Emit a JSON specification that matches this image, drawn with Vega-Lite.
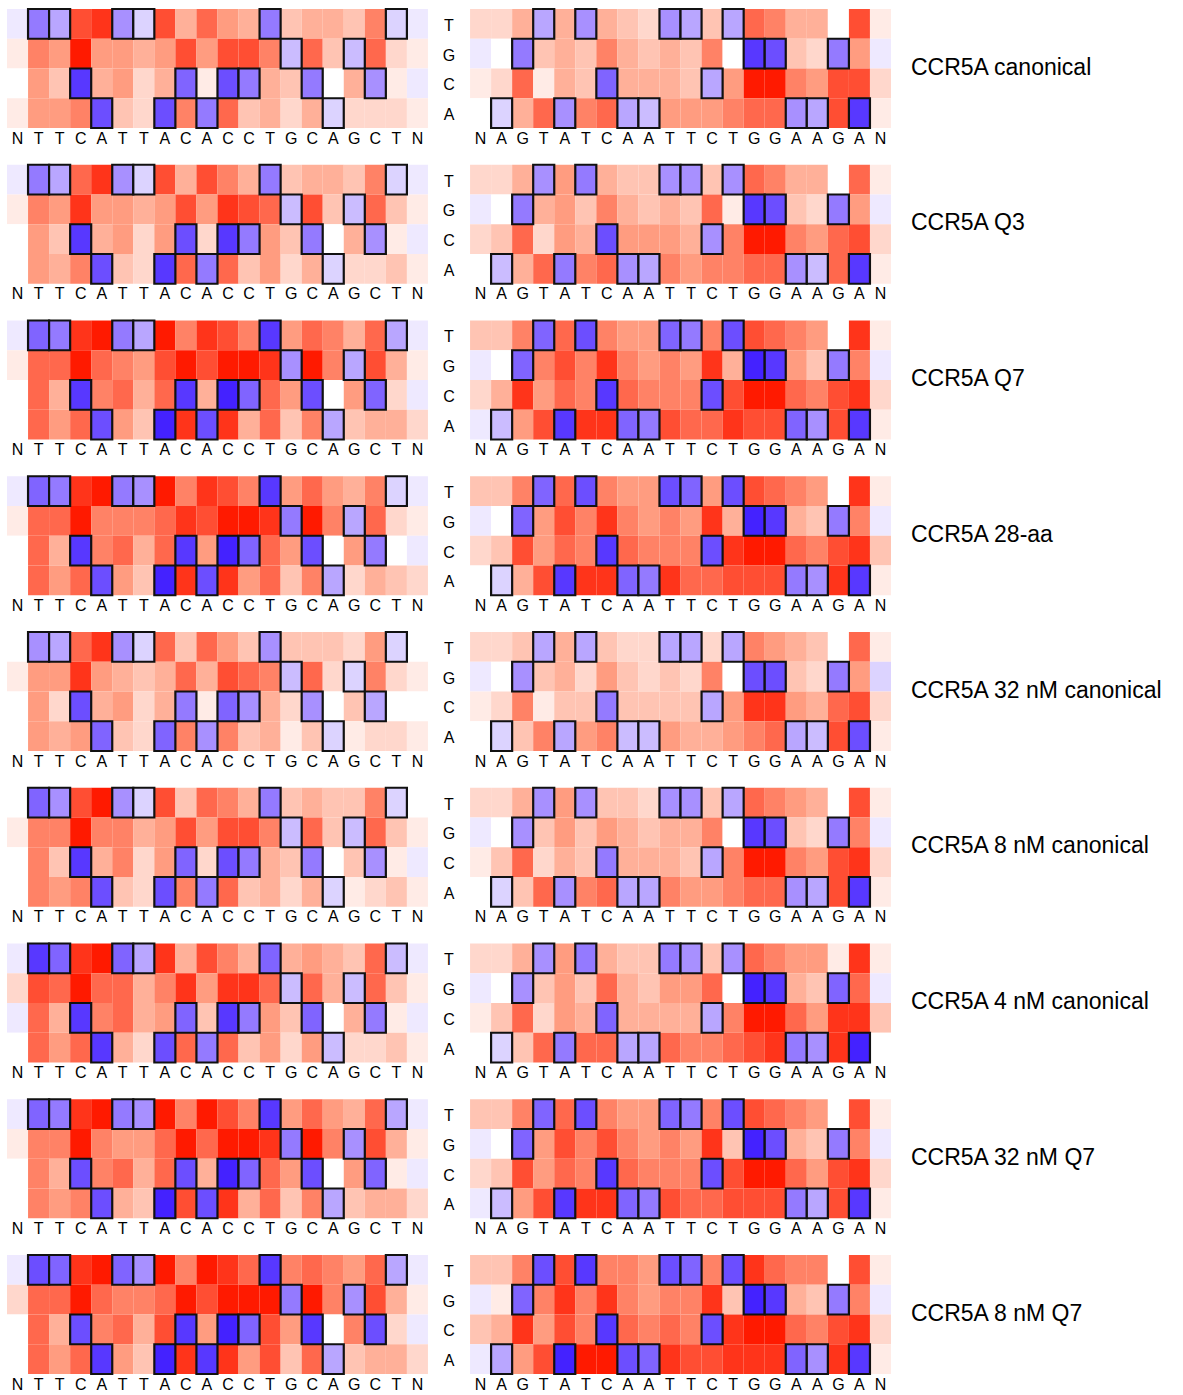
{
"$schema":"https://vega.github.io/schema/vega-lite/v6.json",
"padding":{"left":7,"top":7,"right":5,"bottom":5},
"datasets":{
"panels":[{"p":1,"name":"CCR5A canonical"},{"p":2,"name":"CCR5A Q3"},{"p":3,"name":"CCR5A Q7"},{"p":4,"name":"CCR5A 28-aa"},{"p":5,"name":"CCR5A 32 nM canonical"},{"p":6,"name":"CCR5A 8 nM canonical"},{"p":7,"name":"CCR5A 4 nM canonical"},{"p":8,"name":"CCR5A 32 nM Q7"},{"p":9,"name":"CCR5A 8 nM Q7"}],
"cells":[
{"p":1,"c":0,"b":"T","v":-1},{"p":1,"c":1,"b":"T","v":-6},{"p":1,"c":2,"b":"T","v":-4},{"p":1,"c":3,"b":"T","v":8},{"p":1,"c":4,"b":"T","v":9},{"p":1,"c":5,"b":"T","v":-5},{"p":1,"c":6,"b":"T","v":-2},{"p":1,"c":7,"b":"T","v":8},{"p":1,"c":8,"b":"T","v":4},{"p":1,"c":9,"b":"T","v":7},{"p":1,"c":10,"b":"T","v":5},{"p":1,"c":11,"b":"T","v":4},{"p":1,"c":12,"b":"T","v":-6},{"p":1,"c":13,"b":"T","v":3},{"p":1,"c":14,"b":"T","v":4},{"p":1,"c":15,"b":"T","v":4},{"p":1,"c":16,"b":"T","v":3},{"p":1,"c":17,"b":"T","v":6},{"p":1,"c":18,"b":"T","v":-2},{"p":1,"c":19,"b":"T","v":-1},
{"p":1,"c":22,"b":"T","v":2},{"p":1,"c":23,"b":"T","v":2},{"p":1,"c":24,"b":"T","v":4},{"p":1,"c":25,"b":"T","v":-4},{"p":1,"c":26,"b":"T","v":4},{"p":1,"c":27,"b":"T","v":-5},{"p":1,"c":28,"b":"T","v":4},{"p":1,"c":29,"b":"T","v":3},{"p":1,"c":30,"b":"T","v":2},{"p":1,"c":31,"b":"T","v":-5},{"p":1,"c":32,"b":"T","v":-4},{"p":1,"c":33,"b":"T","v":3},{"p":1,"c":34,"b":"T","v":-4},{"p":1,"c":35,"b":"T","v":7},{"p":1,"c":36,"b":"T","v":6},{"p":1,"c":37,"b":"T","v":4},{"p":1,"c":38,"b":"T","v":4},{"p":1,"c":39,"b":"T","v":0},{"p":1,"c":40,"b":"T","v":8},{"p":1,"c":41,"b":"T","v":1},
{"p":1,"c":0,"b":"G","v":1},{"p":1,"c":1,"b":"G","v":6},{"p":1,"c":2,"b":"G","v":5},{"p":1,"c":3,"b":"G","v":10},{"p":1,"c":4,"b":"G","v":5},{"p":1,"c":5,"b":"G","v":5},{"p":1,"c":6,"b":"G","v":4},{"p":1,"c":7,"b":"G","v":5},{"p":1,"c":8,"b":"G","v":8},{"p":1,"c":9,"b":"G","v":5},{"p":1,"c":10,"b":"G","v":8},{"p":1,"c":11,"b":"G","v":8},{"p":1,"c":12,"b":"G","v":6},{"p":1,"c":13,"b":"G","v":-3},{"p":1,"c":14,"b":"G","v":7},{"p":1,"c":15,"b":"G","v":3},{"p":1,"c":16,"b":"G","v":-3},{"p":1,"c":17,"b":"G","v":7},{"p":1,"c":18,"b":"G","v":2},{"p":1,"c":19,"b":"G","v":1},
{"p":1,"c":22,"b":"G","v":-1},{"p":1,"c":23,"b":"G","v":0},{"p":1,"c":24,"b":"G","v":-6},{"p":1,"c":25,"b":"G","v":3},{"p":1,"c":26,"b":"G","v":4},{"p":1,"c":27,"b":"G","v":3},{"p":1,"c":28,"b":"G","v":6},{"p":1,"c":29,"b":"G","v":4},{"p":1,"c":30,"b":"G","v":3},{"p":1,"c":31,"b":"G","v":4},{"p":1,"c":32,"b":"G","v":3},{"p":1,"c":33,"b":"G","v":6},{"p":1,"c":34,"b":"G","v":0},{"p":1,"c":35,"b":"G","v":-9},{"p":1,"c":36,"b":"G","v":-8},{"p":1,"c":37,"b":"G","v":3},{"p":1,"c":38,"b":"G","v":2},{"p":1,"c":39,"b":"G","v":-6},{"p":1,"c":40,"b":"G","v":5},{"p":1,"c":41,"b":"G","v":-1},
{"p":1,"c":0,"b":"C","v":0},{"p":1,"c":1,"b":"C","v":5},{"p":1,"c":2,"b":"C","v":3},{"p":1,"c":3,"b":"C","v":-9},{"p":1,"c":4,"b":"C","v":4},{"p":1,"c":5,"b":"C","v":5},{"p":1,"c":6,"b":"C","v":2},{"p":1,"c":7,"b":"C","v":4},{"p":1,"c":8,"b":"C","v":-7},{"p":1,"c":9,"b":"C","v":1},{"p":1,"c":10,"b":"C","v":-8},{"p":1,"c":11,"b":"C","v":-6},{"p":1,"c":12,"b":"C","v":4},{"p":1,"c":13,"b":"C","v":3},{"p":1,"c":14,"b":"C","v":-6},{"p":1,"c":15,"b":"C","v":0},{"p":1,"c":16,"b":"C","v":4},{"p":1,"c":17,"b":"C","v":-5},{"p":1,"c":18,"b":"C","v":1},{"p":1,"c":19,"b":"C","v":-1},
{"p":1,"c":22,"b":"C","v":1},{"p":1,"c":23,"b":"C","v":2},{"p":1,"c":24,"b":"C","v":7},{"p":1,"c":25,"b":"C","v":1},{"p":1,"c":26,"b":"C","v":4},{"p":1,"c":27,"b":"C","v":3},{"p":1,"c":28,"b":"C","v":-7},{"p":1,"c":29,"b":"C","v":4},{"p":1,"c":30,"b":"C","v":4},{"p":1,"c":31,"b":"C","v":4},{"p":1,"c":32,"b":"C","v":3},{"p":1,"c":33,"b":"C","v":-4},{"p":1,"c":34,"b":"C","v":5},{"p":1,"c":35,"b":"C","v":10},{"p":1,"c":36,"b":"C","v":10},{"p":1,"c":37,"b":"C","v":6},{"p":1,"c":38,"b":"C","v":5},{"p":1,"c":39,"b":"C","v":8},{"p":1,"c":40,"b":"C","v":8},{"p":1,"c":41,"b":"C","v":2},
{"p":1,"c":0,"b":"A","v":1},{"p":1,"c":1,"b":"A","v":5},{"p":1,"c":2,"b":"A","v":5},{"p":1,"c":3,"b":"A","v":6},{"p":1,"c":4,"b":"A","v":-8},{"p":1,"c":5,"b":"A","v":3},{"p":1,"c":6,"b":"A","v":2},{"p":1,"c":7,"b":"A","v":-8},{"p":1,"c":8,"b":"A","v":6},{"p":1,"c":9,"b":"A","v":-6},{"p":1,"c":10,"b":"A","v":7},{"p":1,"c":11,"b":"A","v":3},{"p":1,"c":12,"b":"A","v":4},{"p":1,"c":13,"b":"A","v":2},{"p":1,"c":14,"b":"A","v":4},{"p":1,"c":15,"b":"A","v":-2},{"p":1,"c":16,"b":"A","v":2},{"p":1,"c":17,"b":"A","v":2},{"p":1,"c":18,"b":"A","v":2},{"p":1,"c":19,"b":"A","v":1},
{"p":1,"c":22,"b":"A","v":0},{"p":1,"c":23,"b":"A","v":-2},{"p":1,"c":24,"b":"A","v":4},{"p":1,"c":25,"b":"A","v":7},{"p":1,"c":26,"b":"A","v":-5},{"p":1,"c":27,"b":"A","v":6},{"p":1,"c":28,"b":"A","v":7},{"p":1,"c":29,"b":"A","v":-4},{"p":1,"c":30,"b":"A","v":-3},{"p":1,"c":31,"b":"A","v":5},{"p":1,"c":32,"b":"A","v":5},{"p":1,"c":33,"b":"A","v":5},{"p":1,"c":34,"b":"A","v":6},{"p":1,"c":35,"b":"A","v":7},{"p":1,"c":36,"b":"A","v":7},{"p":1,"c":37,"b":"A","v":-5},{"p":1,"c":38,"b":"A","v":-4},{"p":1,"c":39,"b":"A","v":8},{"p":1,"c":40,"b":"A","v":-9},{"p":1,"c":41,"b":"A","v":1},

{"p":2,"c":0,"b":"T","v":-1},{"p":2,"c":1,"b":"T","v":-6},{"p":2,"c":2,"b":"T","v":-4},{"p":2,"c":3,"b":"T","v":7},{"p":2,"c":4,"b":"T","v":9},{"p":2,"c":5,"b":"T","v":-5},{"p":2,"c":6,"b":"T","v":-2},{"p":2,"c":7,"b":"T","v":8},{"p":2,"c":8,"b":"T","v":4},{"p":2,"c":9,"b":"T","v":8},{"p":2,"c":10,"b":"T","v":6},{"p":2,"c":11,"b":"T","v":4},{"p":2,"c":12,"b":"T","v":-6},{"p":2,"c":13,"b":"T","v":3},{"p":2,"c":14,"b":"T","v":4},{"p":2,"c":15,"b":"T","v":4},{"p":2,"c":16,"b":"T","v":3},{"p":2,"c":17,"b":"T","v":6},{"p":2,"c":18,"b":"T","v":-2},{"p":2,"c":19,"b":"T","v":-1},
{"p":2,"c":22,"b":"T","v":2},{"p":2,"c":23,"b":"T","v":2},{"p":2,"c":24,"b":"T","v":4},{"p":2,"c":25,"b":"T","v":-5},{"p":2,"c":26,"b":"T","v":5},{"p":2,"c":27,"b":"T","v":-6},{"p":2,"c":28,"b":"T","v":4},{"p":2,"c":29,"b":"T","v":3},{"p":2,"c":30,"b":"T","v":3},{"p":2,"c":31,"b":"T","v":-5},{"p":2,"c":32,"b":"T","v":-5},{"p":2,"c":33,"b":"T","v":3},{"p":2,"c":34,"b":"T","v":-5},{"p":2,"c":35,"b":"T","v":7},{"p":2,"c":36,"b":"T","v":6},{"p":2,"c":37,"b":"T","v":4},{"p":2,"c":38,"b":"T","v":4},{"p":2,"c":39,"b":"T","v":0},{"p":2,"c":40,"b":"T","v":7},{"p":2,"c":41,"b":"T","v":1},
{"p":2,"c":0,"b":"G","v":1},{"p":2,"c":1,"b":"G","v":6},{"p":2,"c":2,"b":"G","v":5},{"p":2,"c":3,"b":"G","v":9},{"p":2,"c":4,"b":"G","v":5},{"p":2,"c":5,"b":"G","v":5},{"p":2,"c":6,"b":"G","v":4},{"p":2,"c":7,"b":"G","v":5},{"p":2,"c":8,"b":"G","v":8},{"p":2,"c":9,"b":"G","v":5},{"p":2,"c":10,"b":"G","v":9},{"p":2,"c":11,"b":"G","v":8},{"p":2,"c":12,"b":"G","v":7},{"p":2,"c":13,"b":"G","v":-3},{"p":2,"c":14,"b":"G","v":8},{"p":2,"c":15,"b":"G","v":3},{"p":2,"c":16,"b":"G","v":-3},{"p":2,"c":17,"b":"G","v":7},{"p":2,"c":18,"b":"G","v":3},{"p":2,"c":19,"b":"G","v":1},
{"p":2,"c":22,"b":"G","v":-1},{"p":2,"c":23,"b":"G","v":0},{"p":2,"c":24,"b":"G","v":-6},{"p":2,"c":25,"b":"G","v":4},{"p":2,"c":26,"b":"G","v":5},{"p":2,"c":27,"b":"G","v":3},{"p":2,"c":28,"b":"G","v":6},{"p":2,"c":29,"b":"G","v":4},{"p":2,"c":30,"b":"G","v":3},{"p":2,"c":31,"b":"G","v":4},{"p":2,"c":32,"b":"G","v":3},{"p":2,"c":33,"b":"G","v":7},{"p":2,"c":34,"b":"G","v":1},{"p":2,"c":35,"b":"G","v":-9},{"p":2,"c":36,"b":"G","v":-8},{"p":2,"c":37,"b":"G","v":3},{"p":2,"c":38,"b":"G","v":2},{"p":2,"c":39,"b":"G","v":-6},{"p":2,"c":40,"b":"G","v":5},{"p":2,"c":41,"b":"G","v":-1},
{"p":2,"c":0,"b":"C","v":0},{"p":2,"c":1,"b":"C","v":5},{"p":2,"c":2,"b":"C","v":3},{"p":2,"c":3,"b":"C","v":-9},{"p":2,"c":4,"b":"C","v":4},{"p":2,"c":5,"b":"C","v":5},{"p":2,"c":6,"b":"C","v":2},{"p":2,"c":7,"b":"C","v":5},{"p":2,"c":8,"b":"C","v":-8},{"p":2,"c":9,"b":"C","v":2},{"p":2,"c":10,"b":"C","v":-9},{"p":2,"c":11,"b":"C","v":-6},{"p":2,"c":12,"b":"C","v":5},{"p":2,"c":13,"b":"C","v":3},{"p":2,"c":14,"b":"C","v":-6},{"p":2,"c":15,"b":"C","v":0},{"p":2,"c":16,"b":"C","v":4},{"p":2,"c":17,"b":"C","v":-5},{"p":2,"c":18,"b":"C","v":1},{"p":2,"c":19,"b":"C","v":-1},
{"p":2,"c":22,"b":"C","v":2},{"p":2,"c":23,"b":"C","v":3},{"p":2,"c":24,"b":"C","v":7},{"p":2,"c":25,"b":"C","v":2},{"p":2,"c":26,"b":"C","v":5},{"p":2,"c":27,"b":"C","v":4},{"p":2,"c":28,"b":"C","v":-8},{"p":2,"c":29,"b":"C","v":5},{"p":2,"c":30,"b":"C","v":5},{"p":2,"c":31,"b":"C","v":5},{"p":2,"c":32,"b":"C","v":4},{"p":2,"c":33,"b":"C","v":-5},{"p":2,"c":34,"b":"C","v":6},{"p":2,"c":35,"b":"C","v":10},{"p":2,"c":36,"b":"C","v":10},{"p":2,"c":37,"b":"C","v":6},{"p":2,"c":38,"b":"C","v":5},{"p":2,"c":39,"b":"C","v":7},{"p":2,"c":40,"b":"C","v":8},{"p":2,"c":41,"b":"C","v":2},
{"p":2,"c":0,"b":"A","v":0},{"p":2,"c":1,"b":"A","v":5},{"p":2,"c":2,"b":"A","v":4},{"p":2,"c":3,"b":"A","v":6},{"p":2,"c":4,"b":"A","v":-8},{"p":2,"c":5,"b":"A","v":3},{"p":2,"c":6,"b":"A","v":2},{"p":2,"c":7,"b":"A","v":-9},{"p":2,"c":8,"b":"A","v":7},{"p":2,"c":9,"b":"A","v":-6},{"p":2,"c":10,"b":"A","v":7},{"p":2,"c":11,"b":"A","v":3},{"p":2,"c":12,"b":"A","v":5},{"p":2,"c":13,"b":"A","v":2},{"p":2,"c":14,"b":"A","v":4},{"p":2,"c":15,"b":"A","v":-2},{"p":2,"c":16,"b":"A","v":2},{"p":2,"c":17,"b":"A","v":2},{"p":2,"c":18,"b":"A","v":3},{"p":2,"c":19,"b":"A","v":1},
{"p":2,"c":22,"b":"A","v":0},{"p":2,"c":23,"b":"A","v":-3},{"p":2,"c":24,"b":"A","v":4},{"p":2,"c":25,"b":"A","v":7},{"p":2,"c":26,"b":"A","v":-6},{"p":2,"c":27,"b":"A","v":6},{"p":2,"c":28,"b":"A","v":7},{"p":2,"c":29,"b":"A","v":-5},{"p":2,"c":30,"b":"A","v":-4},{"p":2,"c":31,"b":"A","v":6},{"p":2,"c":32,"b":"A","v":5},{"p":2,"c":33,"b":"A","v":6},{"p":2,"c":34,"b":"A","v":6},{"p":2,"c":35,"b":"A","v":7},{"p":2,"c":36,"b":"A","v":7},{"p":2,"c":37,"b":"A","v":-5},{"p":2,"c":38,"b":"A","v":-3},{"p":2,"c":39,"b":"A","v":7},{"p":2,"c":40,"b":"A","v":-9},{"p":2,"c":41,"b":"A","v":1},

{"p":3,"c":0,"b":"T","v":-1},{"p":3,"c":1,"b":"T","v":-7},{"p":3,"c":2,"b":"T","v":-6},{"p":3,"c":3,"b":"T","v":9},{"p":3,"c":4,"b":"T","v":10},{"p":3,"c":5,"b":"T","v":-6},{"p":3,"c":6,"b":"T","v":-4},{"p":3,"c":7,"b":"T","v":10},{"p":3,"c":8,"b":"T","v":6},{"p":3,"c":9,"b":"T","v":9},{"p":3,"c":10,"b":"T","v":8},{"p":3,"c":11,"b":"T","v":6},{"p":3,"c":12,"b":"T","v":-9},{"p":3,"c":13,"b":"T","v":5},{"p":3,"c":14,"b":"T","v":7},{"p":3,"c":15,"b":"T","v":6},{"p":3,"c":16,"b":"T","v":4},{"p":3,"c":17,"b":"T","v":7},{"p":3,"c":18,"b":"T","v":-4},{"p":3,"c":19,"b":"T","v":-1},
{"p":3,"c":22,"b":"T","v":3},{"p":3,"c":23,"b":"T","v":3},{"p":3,"c":24,"b":"T","v":6},{"p":3,"c":25,"b":"T","v":-7},{"p":3,"c":26,"b":"T","v":7},{"p":3,"c":27,"b":"T","v":-8},{"p":3,"c":28,"b":"T","v":6},{"p":3,"c":29,"b":"T","v":5},{"p":3,"c":30,"b":"T","v":5},{"p":3,"c":31,"b":"T","v":-7},{"p":3,"c":32,"b":"T","v":-6},{"p":3,"c":33,"b":"T","v":6},{"p":3,"c":34,"b":"T","v":-8},{"p":3,"c":35,"b":"T","v":8},{"p":3,"c":36,"b":"T","v":7},{"p":3,"c":37,"b":"T","v":6},{"p":3,"c":38,"b":"T","v":5},{"p":3,"c":39,"b":"T","v":0},{"p":3,"c":40,"b":"T","v":9},{"p":3,"c":41,"b":"T","v":1},
{"p":3,"c":0,"b":"G","v":1},{"p":3,"c":1,"b":"G","v":7},{"p":3,"c":2,"b":"G","v":7},{"p":3,"c":3,"b":"G","v":10},{"p":3,"c":4,"b":"G","v":7},{"p":3,"c":5,"b":"G","v":6},{"p":3,"c":6,"b":"G","v":5},{"p":3,"c":7,"b":"G","v":8},{"p":3,"c":8,"b":"G","v":10},{"p":3,"c":9,"b":"G","v":8},{"p":3,"c":10,"b":"G","v":10},{"p":3,"c":11,"b":"G","v":10},{"p":3,"c":12,"b":"G","v":9},{"p":3,"c":13,"b":"G","v":-5},{"p":3,"c":14,"b":"G","v":10},{"p":3,"c":15,"b":"G","v":6},{"p":3,"c":16,"b":"G","v":-4},{"p":3,"c":17,"b":"G","v":8},{"p":3,"c":18,"b":"G","v":4},{"p":3,"c":19,"b":"G","v":1},
{"p":3,"c":22,"b":"G","v":-1},{"p":3,"c":23,"b":"G","v":0},{"p":3,"c":24,"b":"G","v":-7},{"p":3,"c":25,"b":"G","v":6},{"p":3,"c":26,"b":"G","v":8},{"p":3,"c":27,"b":"G","v":6},{"p":3,"c":28,"b":"G","v":9},{"p":3,"c":29,"b":"G","v":6},{"p":3,"c":30,"b":"G","v":5},{"p":3,"c":31,"b":"G","v":6},{"p":3,"c":32,"b":"G","v":5},{"p":3,"c":33,"b":"G","v":9},{"p":3,"c":34,"b":"G","v":4},{"p":3,"c":35,"b":"G","v":-10},{"p":3,"c":36,"b":"G","v":-9},{"p":3,"c":37,"b":"G","v":5},{"p":3,"c":38,"b":"G","v":3},{"p":3,"c":39,"b":"G","v":-6},{"p":3,"c":40,"b":"G","v":6},{"p":3,"c":41,"b":"G","v":-1},
{"p":3,"c":0,"b":"C","v":0},{"p":3,"c":1,"b":"C","v":7},{"p":3,"c":2,"b":"C","v":4},{"p":3,"c":3,"b":"C","v":-9},{"p":3,"c":4,"b":"C","v":6},{"p":3,"c":5,"b":"C","v":7},{"p":3,"c":6,"b":"C","v":4},{"p":3,"c":7,"b":"C","v":7},{"p":3,"c":8,"b":"C","v":-9},{"p":3,"c":9,"b":"C","v":4},{"p":3,"c":10,"b":"C","v":-10},{"p":3,"c":11,"b":"C","v":-7},{"p":3,"c":12,"b":"C","v":7},{"p":3,"c":13,"b":"C","v":5},{"p":3,"c":14,"b":"C","v":-8},{"p":3,"c":15,"b":"C","v":0},{"p":3,"c":16,"b":"C","v":5},{"p":3,"c":17,"b":"C","v":-7},{"p":3,"c":18,"b":"C","v":2},{"p":3,"c":19,"b":"C","v":-1},
{"p":3,"c":22,"b":"C","v":2},{"p":3,"c":23,"b":"C","v":4},{"p":3,"c":24,"b":"C","v":9},{"p":3,"c":25,"b":"C","v":5},{"p":3,"c":26,"b":"C","v":7},{"p":3,"c":27,"b":"C","v":6},{"p":3,"c":28,"b":"C","v":-9},{"p":3,"c":29,"b":"C","v":7},{"p":3,"c":30,"b":"C","v":6},{"p":3,"c":31,"b":"C","v":6},{"p":3,"c":32,"b":"C","v":6},{"p":3,"c":33,"b":"C","v":-8},{"p":3,"c":34,"b":"C","v":8},{"p":3,"c":35,"b":"C","v":10},{"p":3,"c":36,"b":"C","v":10},{"p":3,"c":37,"b":"C","v":7},{"p":3,"c":38,"b":"C","v":6},{"p":3,"c":39,"b":"C","v":8},{"p":3,"c":40,"b":"C","v":9},{"p":3,"c":41,"b":"C","v":2},
{"p":3,"c":0,"b":"A","v":0},{"p":3,"c":1,"b":"A","v":7},{"p":3,"c":2,"b":"A","v":5},{"p":3,"c":3,"b":"A","v":7},{"p":3,"c":4,"b":"A","v":-8},{"p":3,"c":5,"b":"A","v":5},{"p":3,"c":6,"b":"A","v":3},{"p":3,"c":7,"b":"A","v":-10},{"p":3,"c":8,"b":"A","v":9},{"p":3,"c":9,"b":"A","v":-8},{"p":3,"c":10,"b":"A","v":9},{"p":3,"c":11,"b":"A","v":4},{"p":3,"c":12,"b":"A","v":7},{"p":3,"c":13,"b":"A","v":3},{"p":3,"c":14,"b":"A","v":6},{"p":3,"c":15,"b":"A","v":-4},{"p":3,"c":16,"b":"A","v":3},{"p":3,"c":17,"b":"A","v":4},{"p":3,"c":18,"b":"A","v":4},{"p":3,"c":19,"b":"A","v":2},
{"p":3,"c":22,"b":"A","v":-1},{"p":3,"c":23,"b":"A","v":-3},{"p":3,"c":24,"b":"A","v":5},{"p":3,"c":25,"b":"A","v":8},{"p":3,"c":26,"b":"A","v":-9},{"p":3,"c":27,"b":"A","v":9},{"p":3,"c":28,"b":"A","v":9},{"p":3,"c":29,"b":"A","v":-7},{"p":3,"c":30,"b":"A","v":-6},{"p":3,"c":31,"b":"A","v":8},{"p":3,"c":32,"b":"A","v":7},{"p":3,"c":33,"b":"A","v":7},{"p":3,"c":34,"b":"A","v":9},{"p":3,"c":35,"b":"A","v":8},{"p":3,"c":36,"b":"A","v":8},{"p":3,"c":37,"b":"A","v":-7},{"p":3,"c":38,"b":"A","v":-5},{"p":3,"c":39,"b":"A","v":8},{"p":3,"c":40,"b":"A","v":-9},{"p":3,"c":41,"b":"A","v":1},

{"p":4,"c":0,"b":"T","v":-1},{"p":4,"c":1,"b":"T","v":-7},{"p":4,"c":2,"b":"T","v":-6},{"p":4,"c":3,"b":"T","v":9},{"p":4,"c":4,"b":"T","v":10},{"p":4,"c":5,"b":"T","v":-6},{"p":4,"c":6,"b":"T","v":-5},{"p":4,"c":7,"b":"T","v":10},{"p":4,"c":8,"b":"T","v":6},{"p":4,"c":9,"b":"T","v":9},{"p":4,"c":10,"b":"T","v":8},{"p":4,"c":11,"b":"T","v":6},{"p":4,"c":12,"b":"T","v":-9},{"p":4,"c":13,"b":"T","v":5},{"p":4,"c":14,"b":"T","v":7},{"p":4,"c":15,"b":"T","v":5},{"p":4,"c":16,"b":"T","v":4},{"p":4,"c":17,"b":"T","v":6},{"p":4,"c":18,"b":"T","v":-2},{"p":4,"c":19,"b":"T","v":-1},
{"p":4,"c":22,"b":"T","v":3},{"p":4,"c":23,"b":"T","v":3},{"p":4,"c":24,"b":"T","v":6},{"p":4,"c":25,"b":"T","v":-7},{"p":4,"c":26,"b":"T","v":7},{"p":4,"c":27,"b":"T","v":-8},{"p":4,"c":28,"b":"T","v":6},{"p":4,"c":29,"b":"T","v":5},{"p":4,"c":30,"b":"T","v":5},{"p":4,"c":31,"b":"T","v":-8},{"p":4,"c":32,"b":"T","v":-7},{"p":4,"c":33,"b":"T","v":5},{"p":4,"c":34,"b":"T","v":-8},{"p":4,"c":35,"b":"T","v":8},{"p":4,"c":36,"b":"T","v":7},{"p":4,"c":37,"b":"T","v":6},{"p":4,"c":38,"b":"T","v":5},{"p":4,"c":39,"b":"T","v":0},{"p":4,"c":40,"b":"T","v":9},{"p":4,"c":41,"b":"T","v":1},
{"p":4,"c":0,"b":"G","v":1},{"p":4,"c":1,"b":"G","v":7},{"p":4,"c":2,"b":"G","v":7},{"p":4,"c":3,"b":"G","v":10},{"p":4,"c":4,"b":"G","v":6},{"p":4,"c":5,"b":"G","v":6},{"p":4,"c":6,"b":"G","v":6},{"p":4,"c":7,"b":"G","v":7},{"p":4,"c":8,"b":"G","v":9},{"p":4,"c":9,"b":"G","v":8},{"p":4,"c":10,"b":"G","v":10},{"p":4,"c":11,"b":"G","v":10},{"p":4,"c":12,"b":"G","v":9},{"p":4,"c":13,"b":"G","v":-6},{"p":4,"c":14,"b":"G","v":10},{"p":4,"c":15,"b":"G","v":6},{"p":4,"c":16,"b":"G","v":-4},{"p":4,"c":17,"b":"G","v":7},{"p":4,"c":18,"b":"G","v":2},{"p":4,"c":19,"b":"G","v":1},
{"p":4,"c":22,"b":"G","v":-1},{"p":4,"c":23,"b":"G","v":0},{"p":4,"c":24,"b":"G","v":-7},{"p":4,"c":25,"b":"G","v":5},{"p":4,"c":26,"b":"G","v":8},{"p":4,"c":27,"b":"G","v":6},{"p":4,"c":28,"b":"G","v":9},{"p":4,"c":29,"b":"G","v":6},{"p":4,"c":30,"b":"G","v":5},{"p":4,"c":31,"b":"G","v":6},{"p":4,"c":32,"b":"G","v":5},{"p":4,"c":33,"b":"G","v":9},{"p":4,"c":34,"b":"G","v":4},{"p":4,"c":35,"b":"G","v":-10},{"p":4,"c":36,"b":"G","v":-9},{"p":4,"c":37,"b":"G","v":4},{"p":4,"c":38,"b":"G","v":3},{"p":4,"c":39,"b":"G","v":-6},{"p":4,"c":40,"b":"G","v":6},{"p":4,"c":41,"b":"G","v":-1},
{"p":4,"c":0,"b":"C","v":0},{"p":4,"c":1,"b":"C","v":7},{"p":4,"c":2,"b":"C","v":4},{"p":4,"c":3,"b":"C","v":-9},{"p":4,"c":4,"b":"C","v":6},{"p":4,"c":5,"b":"C","v":7},{"p":4,"c":6,"b":"C","v":4},{"p":4,"c":7,"b":"C","v":7},{"p":4,"c":8,"b":"C","v":-9},{"p":4,"c":9,"b":"C","v":5},{"p":4,"c":10,"b":"C","v":-10},{"p":4,"c":11,"b":"C","v":-7},{"p":4,"c":12,"b":"C","v":7},{"p":4,"c":13,"b":"C","v":5},{"p":4,"c":14,"b":"C","v":-8},{"p":4,"c":15,"b":"C","v":0},{"p":4,"c":16,"b":"C","v":5},{"p":4,"c":17,"b":"C","v":-6},{"p":4,"c":18,"b":"C","v":0},{"p":4,"c":19,"b":"C","v":-1},
{"p":4,"c":22,"b":"C","v":2},{"p":4,"c":23,"b":"C","v":3},{"p":4,"c":24,"b":"C","v":8},{"p":4,"c":25,"b":"C","v":5},{"p":4,"c":26,"b":"C","v":7},{"p":4,"c":27,"b":"C","v":6},{"p":4,"c":28,"b":"C","v":-9},{"p":4,"c":29,"b":"C","v":7},{"p":4,"c":30,"b":"C","v":6},{"p":4,"c":31,"b":"C","v":6},{"p":4,"c":32,"b":"C","v":6},{"p":4,"c":33,"b":"C","v":-8},{"p":4,"c":34,"b":"C","v":9},{"p":4,"c":35,"b":"C","v":10},{"p":4,"c":36,"b":"C","v":10},{"p":4,"c":37,"b":"C","v":7},{"p":4,"c":38,"b":"C","v":6},{"p":4,"c":39,"b":"C","v":8},{"p":4,"c":40,"b":"C","v":9},{"p":4,"c":41,"b":"C","v":3},
{"p":4,"c":0,"b":"A","v":0},{"p":4,"c":1,"b":"A","v":7},{"p":4,"c":2,"b":"A","v":5},{"p":4,"c":3,"b":"A","v":7},{"p":4,"c":4,"b":"A","v":-8},{"p":4,"c":5,"b":"A","v":5},{"p":4,"c":6,"b":"A","v":3},{"p":4,"c":7,"b":"A","v":-10},{"p":4,"c":8,"b":"A","v":9},{"p":4,"c":9,"b":"A","v":-8},{"p":4,"c":10,"b":"A","v":9},{"p":4,"c":11,"b":"A","v":5},{"p":4,"c":12,"b":"A","v":7},{"p":4,"c":13,"b":"A","v":3},{"p":4,"c":14,"b":"A","v":6},{"p":4,"c":15,"b":"A","v":-4},{"p":4,"c":16,"b":"A","v":2},{"p":4,"c":17,"b":"A","v":4},{"p":4,"c":18,"b":"A","v":3},{"p":4,"c":19,"b":"A","v":2},
{"p":4,"c":22,"b":"A","v":0},{"p":4,"c":23,"b":"A","v":-2},{"p":4,"c":24,"b":"A","v":4},{"p":4,"c":25,"b":"A","v":8},{"p":4,"c":26,"b":"A","v":-9},{"p":4,"c":27,"b":"A","v":9},{"p":4,"c":28,"b":"A","v":9},{"p":4,"c":29,"b":"A","v":-7},{"p":4,"c":30,"b":"A","v":-6},{"p":4,"c":31,"b":"A","v":9},{"p":4,"c":32,"b":"A","v":7},{"p":4,"c":33,"b":"A","v":7},{"p":4,"c":34,"b":"A","v":8},{"p":4,"c":35,"b":"A","v":8},{"p":4,"c":36,"b":"A","v":8},{"p":4,"c":37,"b":"A","v":-6},{"p":4,"c":38,"b":"A","v":-5},{"p":4,"c":39,"b":"A","v":9},{"p":4,"c":40,"b":"A","v":-9},{"p":4,"c":41,"b":"A","v":1},

{"p":5,"c":0,"b":"T","v":0},{"p":5,"c":1,"b":"T","v":-5},{"p":5,"c":2,"b":"T","v":-4},{"p":5,"c":3,"b":"T","v":7},{"p":5,"c":4,"b":"T","v":9},{"p":5,"c":5,"b":"T","v":-5},{"p":5,"c":6,"b":"T","v":-2},{"p":5,"c":7,"b":"T","v":7},{"p":5,"c":8,"b":"T","v":3},{"p":5,"c":9,"b":"T","v":7},{"p":5,"c":10,"b":"T","v":5},{"p":5,"c":11,"b":"T","v":3},{"p":5,"c":12,"b":"T","v":-5},{"p":5,"c":13,"b":"T","v":3},{"p":5,"c":14,"b":"T","v":3},{"p":5,"c":15,"b":"T","v":3},{"p":5,"c":16,"b":"T","v":2},{"p":5,"c":17,"b":"T","v":5},{"p":5,"c":18,"b":"T","v":-2},{"p":5,"c":19,"b":"T","v":0},
{"p":5,"c":22,"b":"T","v":2},{"p":5,"c":23,"b":"T","v":2},{"p":5,"c":24,"b":"T","v":3},{"p":5,"c":25,"b":"T","v":-4},{"p":5,"c":26,"b":"T","v":4},{"p":5,"c":27,"b":"T","v":-4},{"p":5,"c":28,"b":"T","v":3},{"p":5,"c":29,"b":"T","v":2},{"p":5,"c":30,"b":"T","v":2},{"p":5,"c":31,"b":"T","v":-4},{"p":5,"c":32,"b":"T","v":-4},{"p":5,"c":33,"b":"T","v":2},{"p":5,"c":34,"b":"T","v":-4},{"p":5,"c":35,"b":"T","v":6},{"p":5,"c":36,"b":"T","v":5},{"p":5,"c":37,"b":"T","v":4},{"p":5,"c":38,"b":"T","v":3},{"p":5,"c":39,"b":"T","v":0},{"p":5,"c":40,"b":"T","v":7},{"p":5,"c":41,"b":"T","v":1},
{"p":5,"c":0,"b":"G","v":1},{"p":5,"c":1,"b":"G","v":5},{"p":5,"c":2,"b":"G","v":5},{"p":5,"c":3,"b":"G","v":9},{"p":5,"c":4,"b":"G","v":5},{"p":5,"c":5,"b":"G","v":4},{"p":5,"c":6,"b":"G","v":3},{"p":5,"c":7,"b":"G","v":4},{"p":5,"c":8,"b":"G","v":7},{"p":5,"c":9,"b":"G","v":4},{"p":5,"c":10,"b":"G","v":8},{"p":5,"c":11,"b":"G","v":7},{"p":5,"c":12,"b":"G","v":6},{"p":5,"c":13,"b":"G","v":-3},{"p":5,"c":14,"b":"G","v":7},{"p":5,"c":15,"b":"G","v":2},{"p":5,"c":16,"b":"G","v":-2},{"p":5,"c":17,"b":"G","v":6},{"p":5,"c":18,"b":"G","v":2},{"p":5,"c":19,"b":"G","v":1},
{"p":5,"c":22,"b":"G","v":-1},{"p":5,"c":23,"b":"G","v":0},{"p":5,"c":24,"b":"G","v":-5},{"p":5,"c":25,"b":"G","v":3},{"p":5,"c":26,"b":"G","v":4},{"p":5,"c":27,"b":"G","v":2},{"p":5,"c":28,"b":"G","v":5},{"p":5,"c":29,"b":"G","v":3},{"p":5,"c":30,"b":"G","v":2},{"p":5,"c":31,"b":"G","v":3},{"p":5,"c":32,"b":"G","v":2},{"p":5,"c":33,"b":"G","v":6},{"p":5,"c":34,"b":"G","v":0},{"p":5,"c":35,"b":"G","v":-8},{"p":5,"c":36,"b":"G","v":-8},{"p":5,"c":37,"b":"G","v":3},{"p":5,"c":38,"b":"G","v":2},{"p":5,"c":39,"b":"G","v":-6},{"p":5,"c":40,"b":"G","v":5},{"p":5,"c":41,"b":"G","v":-2},
{"p":5,"c":0,"b":"C","v":0},{"p":5,"c":1,"b":"C","v":5},{"p":5,"c":2,"b":"C","v":2},{"p":5,"c":3,"b":"C","v":-8},{"p":5,"c":4,"b":"C","v":4},{"p":5,"c":5,"b":"C","v":5},{"p":5,"c":6,"b":"C","v":2},{"p":5,"c":7,"b":"C","v":4},{"p":5,"c":8,"b":"C","v":-6},{"p":5,"c":9,"b":"C","v":1},{"p":5,"c":10,"b":"C","v":-7},{"p":5,"c":11,"b":"C","v":-5},{"p":5,"c":12,"b":"C","v":4},{"p":5,"c":13,"b":"C","v":2},{"p":5,"c":14,"b":"C","v":-5},{"p":5,"c":15,"b":"C","v":0},{"p":5,"c":16,"b":"C","v":3},{"p":5,"c":17,"b":"C","v":-4},{"p":5,"c":18,"b":"C","v":0},{"p":5,"c":19,"b":"C","v":0},
{"p":5,"c":22,"b":"C","v":1},{"p":5,"c":23,"b":"C","v":2},{"p":5,"c":24,"b":"C","v":6},{"p":5,"c":25,"b":"C","v":1},{"p":5,"c":26,"b":"C","v":3},{"p":5,"c":27,"b":"C","v":3},{"p":5,"c":28,"b":"C","v":-6},{"p":5,"c":29,"b":"C","v":3},{"p":5,"c":30,"b":"C","v":3},{"p":5,"c":31,"b":"C","v":3},{"p":5,"c":32,"b":"C","v":3},{"p":5,"c":33,"b":"C","v":-4},{"p":5,"c":34,"b":"C","v":5},{"p":5,"c":35,"b":"C","v":9},{"p":5,"c":36,"b":"C","v":9},{"p":5,"c":37,"b":"C","v":5},{"p":5,"c":38,"b":"C","v":4},{"p":5,"c":39,"b":"C","v":7},{"p":5,"c":40,"b":"C","v":8},{"p":5,"c":41,"b":"C","v":2},
{"p":5,"c":0,"b":"A","v":0},{"p":5,"c":1,"b":"A","v":5},{"p":5,"c":2,"b":"A","v":4},{"p":5,"c":3,"b":"A","v":5},{"p":5,"c":4,"b":"A","v":-7},{"p":5,"c":5,"b":"A","v":3},{"p":5,"c":6,"b":"A","v":2},{"p":5,"c":7,"b":"A","v":-7},{"p":5,"c":8,"b":"A","v":6},{"p":5,"c":9,"b":"A","v":-5},{"p":5,"c":10,"b":"A","v":6},{"p":5,"c":11,"b":"A","v":3},{"p":5,"c":12,"b":"A","v":4},{"p":5,"c":13,"b":"A","v":1},{"p":5,"c":14,"b":"A","v":3},{"p":5,"c":15,"b":"A","v":-2},{"p":5,"c":16,"b":"A","v":1},{"p":5,"c":17,"b":"A","v":2},{"p":5,"c":18,"b":"A","v":2},{"p":5,"c":19,"b":"A","v":1},
{"p":5,"c":22,"b":"A","v":0},{"p":5,"c":23,"b":"A","v":-2},{"p":5,"c":24,"b":"A","v":3},{"p":5,"c":25,"b":"A","v":6},{"p":5,"c":26,"b":"A","v":-4},{"p":5,"c":27,"b":"A","v":5},{"p":5,"c":28,"b":"A","v":6},{"p":5,"c":29,"b":"A","v":-3},{"p":5,"c":30,"b":"A","v":-3},{"p":5,"c":31,"b":"A","v":5},{"p":5,"c":32,"b":"A","v":4},{"p":5,"c":33,"b":"A","v":4},{"p":5,"c":34,"b":"A","v":5},{"p":5,"c":35,"b":"A","v":6},{"p":5,"c":36,"b":"A","v":7},{"p":5,"c":37,"b":"A","v":-4},{"p":5,"c":38,"b":"A","v":-3},{"p":5,"c":39,"b":"A","v":8},{"p":5,"c":40,"b":"A","v":-8},{"p":5,"c":41,"b":"A","v":1},

{"p":6,"c":0,"b":"T","v":0},{"p":6,"c":1,"b":"T","v":-7},{"p":6,"c":2,"b":"T","v":-5},{"p":6,"c":3,"b":"T","v":8},{"p":6,"c":4,"b":"T","v":10},{"p":6,"c":5,"b":"T","v":-5},{"p":6,"c":6,"b":"T","v":-2},{"p":6,"c":7,"b":"T","v":8},{"p":6,"c":8,"b":"T","v":3},{"p":6,"c":9,"b":"T","v":7},{"p":6,"c":10,"b":"T","v":6},{"p":6,"c":11,"b":"T","v":4},{"p":6,"c":12,"b":"T","v":-6},{"p":6,"c":13,"b":"T","v":3},{"p":6,"c":14,"b":"T","v":4},{"p":6,"c":15,"b":"T","v":3},{"p":6,"c":16,"b":"T","v":3},{"p":6,"c":17,"b":"T","v":6},{"p":6,"c":18,"b":"T","v":-2},{"p":6,"c":19,"b":"T","v":0},
{"p":6,"c":22,"b":"T","v":2},{"p":6,"c":23,"b":"T","v":2},{"p":6,"c":24,"b":"T","v":4},{"p":6,"c":25,"b":"T","v":-5},{"p":6,"c":26,"b":"T","v":5},{"p":6,"c":27,"b":"T","v":-5},{"p":6,"c":28,"b":"T","v":3},{"p":6,"c":29,"b":"T","v":3},{"p":6,"c":30,"b":"T","v":2},{"p":6,"c":31,"b":"T","v":-5},{"p":6,"c":32,"b":"T","v":-5},{"p":6,"c":33,"b":"T","v":3},{"p":6,"c":34,"b":"T","v":-4},{"p":6,"c":35,"b":"T","v":7},{"p":6,"c":36,"b":"T","v":6},{"p":6,"c":37,"b":"T","v":5},{"p":6,"c":38,"b":"T","v":4},{"p":6,"c":39,"b":"T","v":0},{"p":6,"c":40,"b":"T","v":8},{"p":6,"c":41,"b":"T","v":1},
{"p":6,"c":0,"b":"G","v":1},{"p":6,"c":1,"b":"G","v":6},{"p":6,"c":2,"b":"G","v":6},{"p":6,"c":3,"b":"G","v":10},{"p":6,"c":4,"b":"G","v":6},{"p":6,"c":5,"b":"G","v":6},{"p":6,"c":6,"b":"G","v":4},{"p":6,"c":7,"b":"G","v":5},{"p":6,"c":8,"b":"G","v":8},{"p":6,"c":9,"b":"G","v":5},{"p":6,"c":10,"b":"G","v":8},{"p":6,"c":11,"b":"G","v":8},{"p":6,"c":12,"b":"G","v":6},{"p":6,"c":13,"b":"G","v":-3},{"p":6,"c":14,"b":"G","v":7},{"p":6,"c":15,"b":"G","v":3},{"p":6,"c":16,"b":"G","v":-3},{"p":6,"c":17,"b":"G","v":7},{"p":6,"c":18,"b":"G","v":3},{"p":6,"c":19,"b":"G","v":1},
{"p":6,"c":22,"b":"G","v":-1},{"p":6,"c":23,"b":"G","v":0},{"p":6,"c":24,"b":"G","v":-5},{"p":6,"c":25,"b":"G","v":3},{"p":6,"c":26,"b":"G","v":5},{"p":6,"c":27,"b":"G","v":3},{"p":6,"c":28,"b":"G","v":5},{"p":6,"c":29,"b":"G","v":4},{"p":6,"c":30,"b":"G","v":3},{"p":6,"c":31,"b":"G","v":4},{"p":6,"c":32,"b":"G","v":4},{"p":6,"c":33,"b":"G","v":6},{"p":6,"c":34,"b":"G","v":0},{"p":6,"c":35,"b":"G","v":-9},{"p":6,"c":36,"b":"G","v":-8},{"p":6,"c":37,"b":"G","v":3},{"p":6,"c":38,"b":"G","v":2},{"p":6,"c":39,"b":"G","v":-6},{"p":6,"c":40,"b":"G","v":6},{"p":6,"c":41,"b":"G","v":-1},
{"p":6,"c":0,"b":"C","v":0},{"p":6,"c":1,"b":"C","v":6},{"p":6,"c":2,"b":"C","v":3},{"p":6,"c":3,"b":"C","v":-9},{"p":6,"c":4,"b":"C","v":4},{"p":6,"c":5,"b":"C","v":6},{"p":6,"c":6,"b":"C","v":2},{"p":6,"c":7,"b":"C","v":5},{"p":6,"c":8,"b":"C","v":-7},{"p":6,"c":9,"b":"C","v":2},{"p":6,"c":10,"b":"C","v":-8},{"p":6,"c":11,"b":"C","v":-6},{"p":6,"c":12,"b":"C","v":4},{"p":6,"c":13,"b":"C","v":3},{"p":6,"c":14,"b":"C","v":-6},{"p":6,"c":15,"b":"C","v":0},{"p":6,"c":16,"b":"C","v":3},{"p":6,"c":17,"b":"C","v":-5},{"p":6,"c":18,"b":"C","v":1},{"p":6,"c":19,"b":"C","v":-1},
{"p":6,"c":22,"b":"C","v":1},{"p":6,"c":23,"b":"C","v":3},{"p":6,"c":24,"b":"C","v":7},{"p":6,"c":25,"b":"C","v":2},{"p":6,"c":26,"b":"C","v":4},{"p":6,"c":27,"b":"C","v":3},{"p":6,"c":28,"b":"C","v":-6},{"p":6,"c":29,"b":"C","v":4},{"p":6,"c":30,"b":"C","v":4},{"p":6,"c":31,"b":"C","v":4},{"p":6,"c":32,"b":"C","v":3},{"p":6,"c":33,"b":"C","v":-4},{"p":6,"c":34,"b":"C","v":6},{"p":6,"c":35,"b":"C","v":10},{"p":6,"c":36,"b":"C","v":10},{"p":6,"c":37,"b":"C","v":6},{"p":6,"c":38,"b":"C","v":5},{"p":6,"c":39,"b":"C","v":8},{"p":6,"c":40,"b":"C","v":9},{"p":6,"c":41,"b":"C","v":2},
{"p":6,"c":0,"b":"A","v":0},{"p":6,"c":1,"b":"A","v":6},{"p":6,"c":2,"b":"A","v":5},{"p":6,"c":3,"b":"A","v":6},{"p":6,"c":4,"b":"A","v":-8},{"p":6,"c":5,"b":"A","v":3},{"p":6,"c":6,"b":"A","v":2},{"p":6,"c":7,"b":"A","v":-8},{"p":6,"c":8,"b":"A","v":6},{"p":6,"c":9,"b":"A","v":-6},{"p":6,"c":10,"b":"A","v":7},{"p":6,"c":11,"b":"A","v":3},{"p":6,"c":12,"b":"A","v":4},{"p":6,"c":13,"b":"A","v":2},{"p":6,"c":14,"b":"A","v":4},{"p":6,"c":15,"b":"A","v":-2},{"p":6,"c":16,"b":"A","v":1},{"p":6,"c":17,"b":"A","v":2},{"p":6,"c":18,"b":"A","v":3},{"p":6,"c":19,"b":"A","v":1},
{"p":6,"c":22,"b":"A","v":0},{"p":6,"c":23,"b":"A","v":-2},{"p":6,"c":24,"b":"A","v":3},{"p":6,"c":25,"b":"A","v":7},{"p":6,"c":26,"b":"A","v":-5},{"p":6,"c":27,"b":"A","v":6},{"p":6,"c":28,"b":"A","v":7},{"p":6,"c":29,"b":"A","v":-4},{"p":6,"c":30,"b":"A","v":-4},{"p":6,"c":31,"b":"A","v":6},{"p":6,"c":32,"b":"A","v":5},{"p":6,"c":33,"b":"A","v":5},{"p":6,"c":34,"b":"A","v":6},{"p":6,"c":35,"b":"A","v":7},{"p":6,"c":36,"b":"A","v":7},{"p":6,"c":37,"b":"A","v":-5},{"p":6,"c":38,"b":"A","v":-4},{"p":6,"c":39,"b":"A","v":8},{"p":6,"c":40,"b":"A","v":-9},{"p":6,"c":41,"b":"A","v":1},

{"p":7,"c":0,"b":"T","v":-1},{"p":7,"c":1,"b":"T","v":-9},{"p":7,"c":2,"b":"T","v":-7},{"p":7,"c":3,"b":"T","v":9},{"p":7,"c":4,"b":"T","v":10},{"p":7,"c":5,"b":"T","v":-7},{"p":7,"c":6,"b":"T","v":-4},{"p":7,"c":7,"b":"T","v":9},{"p":7,"c":8,"b":"T","v":4},{"p":7,"c":9,"b":"T","v":8},{"p":7,"c":10,"b":"T","v":6},{"p":7,"c":11,"b":"T","v":4},{"p":7,"c":12,"b":"T","v":-7},{"p":7,"c":13,"b":"T","v":4},{"p":7,"c":14,"b":"T","v":5},{"p":7,"c":15,"b":"T","v":4},{"p":7,"c":16,"b":"T","v":3},{"p":7,"c":17,"b":"T","v":7},{"p":7,"c":18,"b":"T","v":-3},{"p":7,"c":19,"b":"T","v":-1},
{"p":7,"c":22,"b":"T","v":2},{"p":7,"c":23,"b":"T","v":2},{"p":7,"c":24,"b":"T","v":4},{"p":7,"c":25,"b":"T","v":-5},{"p":7,"c":26,"b":"T","v":5},{"p":7,"c":27,"b":"T","v":-6},{"p":7,"c":28,"b":"T","v":4},{"p":7,"c":29,"b":"T","v":3},{"p":7,"c":30,"b":"T","v":3},{"p":7,"c":31,"b":"T","v":-6},{"p":7,"c":32,"b":"T","v":-5},{"p":7,"c":33,"b":"T","v":3},{"p":7,"c":34,"b":"T","v":-5},{"p":7,"c":35,"b":"T","v":7},{"p":7,"c":36,"b":"T","v":6},{"p":7,"c":37,"b":"T","v":5},{"p":7,"c":38,"b":"T","v":5},{"p":7,"c":39,"b":"T","v":1},{"p":7,"c":40,"b":"T","v":9},{"p":7,"c":41,"b":"T","v":1},
{"p":7,"c":0,"b":"G","v":2},{"p":7,"c":1,"b":"G","v":8},{"p":7,"c":2,"b":"G","v":7},{"p":7,"c":3,"b":"G","v":10},{"p":7,"c":4,"b":"G","v":7},{"p":7,"c":5,"b":"G","v":7},{"p":7,"c":6,"b":"G","v":4},{"p":7,"c":7,"b":"G","v":6},{"p":7,"c":8,"b":"G","v":9},{"p":7,"c":9,"b":"G","v":5},{"p":7,"c":10,"b":"G","v":9},{"p":7,"c":11,"b":"G","v":9},{"p":7,"c":12,"b":"G","v":7},{"p":7,"c":13,"b":"G","v":-3},{"p":7,"c":14,"b":"G","v":7},{"p":7,"c":15,"b":"G","v":4},{"p":7,"c":16,"b":"G","v":-3},{"p":7,"c":17,"b":"G","v":7},{"p":7,"c":18,"b":"G","v":3},{"p":7,"c":19,"b":"G","v":1},
{"p":7,"c":22,"b":"G","v":-1},{"p":7,"c":23,"b":"G","v":0},{"p":7,"c":24,"b":"G","v":-5},{"p":7,"c":25,"b":"G","v":3},{"p":7,"c":26,"b":"G","v":5},{"p":7,"c":27,"b":"G","v":3},{"p":7,"c":28,"b":"G","v":7},{"p":7,"c":29,"b":"G","v":4},{"p":7,"c":30,"b":"G","v":3},{"p":7,"c":31,"b":"G","v":5},{"p":7,"c":32,"b":"G","v":5},{"p":7,"c":33,"b":"G","v":7},{"p":7,"c":34,"b":"G","v":0},{"p":7,"c":35,"b":"G","v":-10},{"p":7,"c":36,"b":"G","v":-9},{"p":7,"c":37,"b":"G","v":4},{"p":7,"c":38,"b":"G","v":3},{"p":7,"c":39,"b":"G","v":-7},{"p":7,"c":40,"b":"G","v":7},{"p":7,"c":41,"b":"G","v":-1},
{"p":7,"c":0,"b":"C","v":-1},{"p":7,"c":1,"b":"C","v":7},{"p":7,"c":2,"b":"C","v":4},{"p":7,"c":3,"b":"C","v":-9},{"p":7,"c":4,"b":"C","v":6},{"p":7,"c":5,"b":"C","v":7},{"p":7,"c":6,"b":"C","v":4},{"p":7,"c":7,"b":"C","v":5},{"p":7,"c":8,"b":"C","v":-7},{"p":7,"c":9,"b":"C","v":3},{"p":7,"c":10,"b":"C","v":-9},{"p":7,"c":11,"b":"C","v":-6},{"p":7,"c":12,"b":"C","v":5},{"p":7,"c":13,"b":"C","v":3},{"p":7,"c":14,"b":"C","v":-7},{"p":7,"c":15,"b":"C","v":0},{"p":7,"c":16,"b":"C","v":4},{"p":7,"c":17,"b":"C","v":-6},{"p":7,"c":18,"b":"C","v":1},{"p":7,"c":19,"b":"C","v":-1},
{"p":7,"c":22,"b":"C","v":1},{"p":7,"c":23,"b":"C","v":3},{"p":7,"c":24,"b":"C","v":7},{"p":7,"c":25,"b":"C","v":2},{"p":7,"c":26,"b":"C","v":5},{"p":7,"c":27,"b":"C","v":4},{"p":7,"c":28,"b":"C","v":-7},{"p":7,"c":29,"b":"C","v":4},{"p":7,"c":30,"b":"C","v":4},{"p":7,"c":31,"b":"C","v":4},{"p":7,"c":32,"b":"C","v":4},{"p":7,"c":33,"b":"C","v":-4},{"p":7,"c":34,"b":"C","v":6},{"p":7,"c":35,"b":"C","v":10},{"p":7,"c":36,"b":"C","v":10},{"p":7,"c":37,"b":"C","v":7},{"p":7,"c":38,"b":"C","v":5},{"p":7,"c":39,"b":"C","v":9},{"p":7,"c":40,"b":"C","v":9},{"p":7,"c":41,"b":"C","v":3},
{"p":7,"c":0,"b":"A","v":0},{"p":7,"c":1,"b":"A","v":7},{"p":7,"c":2,"b":"A","v":5},{"p":7,"c":3,"b":"A","v":7},{"p":7,"c":4,"b":"A","v":-9},{"p":7,"c":5,"b":"A","v":4},{"p":7,"c":6,"b":"A","v":2},{"p":7,"c":7,"b":"A","v":-8},{"p":7,"c":8,"b":"A","v":7},{"p":7,"c":9,"b":"A","v":-6},{"p":7,"c":10,"b":"A","v":7},{"p":7,"c":11,"b":"A","v":3},{"p":7,"c":12,"b":"A","v":5},{"p":7,"c":13,"b":"A","v":2},{"p":7,"c":14,"b":"A","v":5},{"p":7,"c":15,"b":"A","v":-3},{"p":7,"c":16,"b":"A","v":2},{"p":7,"c":17,"b":"A","v":2},{"p":7,"c":18,"b":"A","v":3},{"p":7,"c":19,"b":"A","v":1},
{"p":7,"c":22,"b":"A","v":0},{"p":7,"c":23,"b":"A","v":-2},{"p":7,"c":24,"b":"A","v":3},{"p":7,"c":25,"b":"A","v":7},{"p":7,"c":26,"b":"A","v":-6},{"p":7,"c":27,"b":"A","v":7},{"p":7,"c":28,"b":"A","v":7},{"p":7,"c":29,"b":"A","v":-4},{"p":7,"c":30,"b":"A","v":-4},{"p":7,"c":31,"b":"A","v":7},{"p":7,"c":32,"b":"A","v":6},{"p":7,"c":33,"b":"A","v":6},{"p":7,"c":34,"b":"A","v":7},{"p":7,"c":35,"b":"A","v":8},{"p":7,"c":36,"b":"A","v":9},{"p":7,"c":37,"b":"A","v":-6},{"p":7,"c":38,"b":"A","v":-5},{"p":7,"c":39,"b":"A","v":9},{"p":7,"c":40,"b":"A","v":-10},{"p":7,"c":41,"b":"A","v":0},

{"p":8,"c":0,"b":"T","v":-1},{"p":8,"c":1,"b":"T","v":-7},{"p":8,"c":2,"b":"T","v":-6},{"p":8,"c":3,"b":"T","v":9},{"p":8,"c":4,"b":"T","v":10},{"p":8,"c":5,"b":"T","v":-6},{"p":8,"c":6,"b":"T","v":-5},{"p":8,"c":7,"b":"T","v":10},{"p":8,"c":8,"b":"T","v":6},{"p":8,"c":9,"b":"T","v":10},{"p":8,"c":10,"b":"T","v":8},{"p":8,"c":11,"b":"T","v":6},{"p":8,"c":12,"b":"T","v":-9},{"p":8,"c":13,"b":"T","v":5},{"p":8,"c":14,"b":"T","v":7},{"p":8,"c":15,"b":"T","v":5},{"p":8,"c":16,"b":"T","v":4},{"p":8,"c":17,"b":"T","v":7},{"p":8,"c":18,"b":"T","v":-4},{"p":8,"c":19,"b":"T","v":-1},
{"p":8,"c":22,"b":"T","v":3},{"p":8,"c":23,"b":"T","v":3},{"p":8,"c":24,"b":"T","v":6},{"p":8,"c":25,"b":"T","v":-7},{"p":8,"c":26,"b":"T","v":7},{"p":8,"c":27,"b":"T","v":-8},{"p":8,"c":28,"b":"T","v":6},{"p":8,"c":29,"b":"T","v":5},{"p":8,"c":30,"b":"T","v":5},{"p":8,"c":31,"b":"T","v":-7},{"p":8,"c":32,"b":"T","v":-6},{"p":8,"c":33,"b":"T","v":6},{"p":8,"c":34,"b":"T","v":-8},{"p":8,"c":35,"b":"T","v":8},{"p":8,"c":36,"b":"T","v":7},{"p":8,"c":37,"b":"T","v":6},{"p":8,"c":38,"b":"T","v":5},{"p":8,"c":39,"b":"T","v":0},{"p":8,"c":40,"b":"T","v":8},{"p":8,"c":41,"b":"T","v":1},
{"p":8,"c":0,"b":"G","v":1},{"p":8,"c":1,"b":"G","v":6},{"p":8,"c":2,"b":"G","v":6},{"p":8,"c":3,"b":"G","v":10},{"p":8,"c":4,"b":"G","v":6},{"p":8,"c":5,"b":"G","v":5},{"p":8,"c":6,"b":"G","v":5},{"p":8,"c":7,"b":"G","v":7},{"p":8,"c":8,"b":"G","v":10},{"p":8,"c":9,"b":"G","v":7},{"p":8,"c":10,"b":"G","v":10},{"p":8,"c":11,"b":"G","v":10},{"p":8,"c":12,"b":"G","v":9},{"p":8,"c":13,"b":"G","v":-6},{"p":8,"c":14,"b":"G","v":10},{"p":8,"c":15,"b":"G","v":6},{"p":8,"c":16,"b":"G","v":-5},{"p":8,"c":17,"b":"G","v":8},{"p":8,"c":18,"b":"G","v":4},{"p":8,"c":19,"b":"G","v":1},
{"p":8,"c":22,"b":"G","v":-1},{"p":8,"c":23,"b":"G","v":0},{"p":8,"c":24,"b":"G","v":-7},{"p":8,"c":25,"b":"G","v":5},{"p":8,"c":26,"b":"G","v":8},{"p":8,"c":27,"b":"G","v":6},{"p":8,"c":28,"b":"G","v":8},{"p":8,"c":29,"b":"G","v":6},{"p":8,"c":30,"b":"G","v":5},{"p":8,"c":31,"b":"G","v":6},{"p":8,"c":32,"b":"G","v":5},{"p":8,"c":33,"b":"G","v":9},{"p":8,"c":34,"b":"G","v":3},{"p":8,"c":35,"b":"G","v":-10},{"p":8,"c":36,"b":"G","v":-8},{"p":8,"c":37,"b":"G","v":4},{"p":8,"c":38,"b":"G","v":3},{"p":8,"c":39,"b":"G","v":-6},{"p":8,"c":40,"b":"G","v":6},{"p":8,"c":41,"b":"G","v":-1},
{"p":8,"c":0,"b":"C","v":0},{"p":8,"c":1,"b":"C","v":6},{"p":8,"c":2,"b":"C","v":4},{"p":8,"c":3,"b":"C","v":-8},{"p":8,"c":4,"b":"C","v":6},{"p":8,"c":5,"b":"C","v":7},{"p":8,"c":6,"b":"C","v":4},{"p":8,"c":7,"b":"C","v":7},{"p":8,"c":8,"b":"C","v":-8},{"p":8,"c":9,"b":"C","v":4},{"p":8,"c":10,"b":"C","v":-10},{"p":8,"c":11,"b":"C","v":-7},{"p":8,"c":12,"b":"C","v":7},{"p":8,"c":13,"b":"C","v":5},{"p":8,"c":14,"b":"C","v":-8},{"p":8,"c":15,"b":"C","v":0},{"p":8,"c":16,"b":"C","v":5},{"p":8,"c":17,"b":"C","v":-7},{"p":8,"c":18,"b":"C","v":1},{"p":8,"c":19,"b":"C","v":-1},
{"p":8,"c":22,"b":"C","v":2},{"p":8,"c":23,"b":"C","v":3},{"p":8,"c":24,"b":"C","v":8},{"p":8,"c":25,"b":"C","v":5},{"p":8,"c":26,"b":"C","v":7},{"p":8,"c":27,"b":"C","v":6},{"p":8,"c":28,"b":"C","v":-9},{"p":8,"c":29,"b":"C","v":7},{"p":8,"c":30,"b":"C","v":6},{"p":8,"c":31,"b":"C","v":6},{"p":8,"c":32,"b":"C","v":6},{"p":8,"c":33,"b":"C","v":-8},{"p":8,"c":34,"b":"C","v":8},{"p":8,"c":35,"b":"C","v":10},{"p":8,"c":36,"b":"C","v":10},{"p":8,"c":37,"b":"C","v":7},{"p":8,"c":38,"b":"C","v":5},{"p":8,"c":39,"b":"C","v":8},{"p":8,"c":40,"b":"C","v":9},{"p":8,"c":41,"b":"C","v":2},
{"p":8,"c":0,"b":"A","v":0},{"p":8,"c":1,"b":"A","v":6},{"p":8,"c":2,"b":"A","v":5},{"p":8,"c":3,"b":"A","v":6},{"p":8,"c":4,"b":"A","v":-8},{"p":8,"c":5,"b":"A","v":4},{"p":8,"c":6,"b":"A","v":3},{"p":8,"c":7,"b":"A","v":-10},{"p":8,"c":8,"b":"A","v":8},{"p":8,"c":9,"b":"A","v":-8},{"p":8,"c":10,"b":"A","v":9},{"p":8,"c":11,"b":"A","v":4},{"p":8,"c":12,"b":"A","v":7},{"p":8,"c":13,"b":"A","v":3},{"p":8,"c":14,"b":"A","v":6},{"p":8,"c":15,"b":"A","v":-4},{"p":8,"c":16,"b":"A","v":3},{"p":8,"c":17,"b":"A","v":4},{"p":8,"c":18,"b":"A","v":4},{"p":8,"c":19,"b":"A","v":2},
{"p":8,"c":22,"b":"A","v":-1},{"p":8,"c":23,"b":"A","v":-3},{"p":8,"c":24,"b":"A","v":5},{"p":8,"c":25,"b":"A","v":8},{"p":8,"c":26,"b":"A","v":-9},{"p":8,"c":27,"b":"A","v":9},{"p":8,"c":28,"b":"A","v":9},{"p":8,"c":29,"b":"A","v":-7},{"p":8,"c":30,"b":"A","v":-6},{"p":8,"c":31,"b":"A","v":8},{"p":8,"c":32,"b":"A","v":7},{"p":8,"c":33,"b":"A","v":7},{"p":8,"c":34,"b":"A","v":8},{"p":8,"c":35,"b":"A","v":8},{"p":8,"c":36,"b":"A","v":8},{"p":8,"c":37,"b":"A","v":-6},{"p":8,"c":38,"b":"A","v":-4},{"p":8,"c":39,"b":"A","v":8},{"p":8,"c":40,"b":"A","v":-9},{"p":8,"c":41,"b":"A","v":1},

{"p":9,"c":0,"b":"T","v":-1},{"p":9,"c":1,"b":"T","v":-8},{"p":9,"c":2,"b":"T","v":-7},{"p":9,"c":3,"b":"T","v":9},{"p":9,"c":4,"b":"T","v":10},{"p":9,"c":5,"b":"T","v":-7},{"p":9,"c":6,"b":"T","v":-5},{"p":9,"c":7,"b":"T","v":10},{"p":9,"c":8,"b":"T","v":6},{"p":9,"c":9,"b":"T","v":10},{"p":9,"c":10,"b":"T","v":9},{"p":9,"c":11,"b":"T","v":7},{"p":9,"c":12,"b":"T","v":-9},{"p":9,"c":13,"b":"T","v":6},{"p":9,"c":14,"b":"T","v":7},{"p":9,"c":15,"b":"T","v":6},{"p":9,"c":16,"b":"T","v":5},{"p":9,"c":17,"b":"T","v":7},{"p":9,"c":18,"b":"T","v":-4},{"p":9,"c":19,"b":"T","v":-1},
{"p":9,"c":22,"b":"T","v":3},{"p":9,"c":23,"b":"T","v":3},{"p":9,"c":24,"b":"T","v":6},{"p":9,"c":25,"b":"T","v":-8},{"p":9,"c":26,"b":"T","v":8},{"p":9,"c":27,"b":"T","v":-9},{"p":9,"c":28,"b":"T","v":6},{"p":9,"c":29,"b":"T","v":6},{"p":9,"c":30,"b":"T","v":5},{"p":9,"c":31,"b":"T","v":-8},{"p":9,"c":32,"b":"T","v":-7},{"p":9,"c":33,"b":"T","v":6},{"p":9,"c":34,"b":"T","v":-8},{"p":9,"c":35,"b":"T","v":9},{"p":9,"c":36,"b":"T","v":7},{"p":9,"c":37,"b":"T","v":6},{"p":9,"c":38,"b":"T","v":6},{"p":9,"c":39,"b":"T","v":0},{"p":9,"c":40,"b":"T","v":8},{"p":9,"c":41,"b":"T","v":1},
{"p":9,"c":0,"b":"G","v":2},{"p":9,"c":1,"b":"G","v":7},{"p":9,"c":2,"b":"G","v":7},{"p":9,"c":3,"b":"G","v":10},{"p":9,"c":4,"b":"G","v":7},{"p":9,"c":5,"b":"G","v":6},{"p":9,"c":6,"b":"G","v":6},{"p":9,"c":7,"b":"G","v":7},{"p":9,"c":8,"b":"G","v":10},{"p":9,"c":9,"b":"G","v":8},{"p":9,"c":10,"b":"G","v":10},{"p":9,"c":11,"b":"G","v":10},{"p":9,"c":12,"b":"G","v":10},{"p":9,"c":13,"b":"G","v":-6},{"p":9,"c":14,"b":"G","v":10},{"p":9,"c":15,"b":"G","v":6},{"p":9,"c":16,"b":"G","v":-5},{"p":9,"c":17,"b":"G","v":8},{"p":9,"c":18,"b":"G","v":4},{"p":9,"c":19,"b":"G","v":1},
{"p":9,"c":22,"b":"G","v":-1},{"p":9,"c":23,"b":"G","v":1},{"p":9,"c":24,"b":"G","v":-7},{"p":9,"c":25,"b":"G","v":6},{"p":9,"c":26,"b":"G","v":9},{"p":9,"c":27,"b":"G","v":6},{"p":9,"c":28,"b":"G","v":9},{"p":9,"c":29,"b":"G","v":6},{"p":9,"c":30,"b":"G","v":5},{"p":9,"c":31,"b":"G","v":6},{"p":9,"c":32,"b":"G","v":6},{"p":9,"c":33,"b":"G","v":9},{"p":9,"c":34,"b":"G","v":3},{"p":9,"c":35,"b":"G","v":-10},{"p":9,"c":36,"b":"G","v":-9},{"p":9,"c":37,"b":"G","v":4},{"p":9,"c":38,"b":"G","v":3},{"p":9,"c":39,"b":"G","v":-6},{"p":9,"c":40,"b":"G","v":6},{"p":9,"c":41,"b":"G","v":-1},
{"p":9,"c":0,"b":"C","v":0},{"p":9,"c":1,"b":"C","v":7},{"p":9,"c":2,"b":"C","v":4},{"p":9,"c":3,"b":"C","v":-8},{"p":9,"c":4,"b":"C","v":6},{"p":9,"c":5,"b":"C","v":7},{"p":9,"c":6,"b":"C","v":4},{"p":9,"c":7,"b":"C","v":8},{"p":9,"c":8,"b":"C","v":-9},{"p":9,"c":9,"b":"C","v":5},{"p":9,"c":10,"b":"C","v":-10},{"p":9,"c":11,"b":"C","v":-7},{"p":9,"c":12,"b":"C","v":8},{"p":9,"c":13,"b":"C","v":5},{"p":9,"c":14,"b":"C","v":-9},{"p":9,"c":15,"b":"C","v":0},{"p":9,"c":16,"b":"C","v":6},{"p":9,"c":17,"b":"C","v":-8},{"p":9,"c":18,"b":"C","v":2},{"p":9,"c":19,"b":"C","v":-1},
{"p":9,"c":22,"b":"C","v":3},{"p":9,"c":23,"b":"C","v":4},{"p":9,"c":24,"b":"C","v":9},{"p":9,"c":25,"b":"C","v":5},{"p":9,"c":26,"b":"C","v":8},{"p":9,"c":27,"b":"C","v":6},{"p":9,"c":28,"b":"C","v":-9},{"p":9,"c":29,"b":"C","v":7},{"p":9,"c":30,"b":"C","v":6},{"p":9,"c":31,"b":"C","v":7},{"p":9,"c":32,"b":"C","v":6},{"p":9,"c":33,"b":"C","v":-8},{"p":9,"c":34,"b":"C","v":9},{"p":9,"c":35,"b":"C","v":10},{"p":9,"c":36,"b":"C","v":10},{"p":9,"c":37,"b":"C","v":7},{"p":9,"c":38,"b":"C","v":6},{"p":9,"c":39,"b":"C","v":8},{"p":9,"c":40,"b":"C","v":9},{"p":9,"c":41,"b":"C","v":2},
{"p":9,"c":0,"b":"A","v":0},{"p":9,"c":1,"b":"A","v":7},{"p":9,"c":2,"b":"A","v":5},{"p":9,"c":3,"b":"A","v":7},{"p":9,"c":4,"b":"A","v":-9},{"p":9,"c":5,"b":"A","v":5},{"p":9,"c":6,"b":"A","v":3},{"p":9,"c":7,"b":"A","v":-10},{"p":9,"c":8,"b":"A","v":9},{"p":9,"c":9,"b":"A","v":-9},{"p":9,"c":10,"b":"A","v":9},{"p":9,"c":11,"b":"A","v":5},{"p":9,"c":12,"b":"A","v":8},{"p":9,"c":13,"b":"A","v":3},{"p":9,"c":14,"b":"A","v":7},{"p":9,"c":15,"b":"A","v":-4},{"p":9,"c":16,"b":"A","v":3},{"p":9,"c":17,"b":"A","v":4},{"p":9,"c":18,"b":"A","v":4},{"p":9,"c":19,"b":"A","v":2},
{"p":9,"c":22,"b":"A","v":-1},{"p":9,"c":23,"b":"A","v":-4},{"p":9,"c":24,"b":"A","v":5},{"p":9,"c":25,"b":"A","v":8},{"p":9,"c":26,"b":"A","v":-10},{"p":9,"c":27,"b":"A","v":10},{"p":9,"c":28,"b":"A","v":10},{"p":9,"c":29,"b":"A","v":-8},{"p":9,"c":30,"b":"A","v":-7},{"p":9,"c":31,"b":"A","v":9},{"p":9,"c":32,"b":"A","v":8},{"p":9,"c":33,"b":"A","v":8},{"p":9,"c":34,"b":"A","v":9},{"p":9,"c":35,"b":"A","v":9},{"p":9,"c":36,"b":"A","v":9},{"p":9,"c":37,"b":"A","v":-7},{"p":9,"c":38,"b":"A","v":-5},{"p":9,"c":39,"b":"A","v":9},{"p":9,"c":40,"b":"A","v":-9},{"p":9,"c":41,"b":"A","v":1}
]},
"data":{"name":"cells"},
"transform":[{"lookup":"p","from":{"data":{"name":"panels"},"key":"p","fields":["name"]}}],
"facet":{"row":{"field":"p","type":"ordinal","header":{"title":null,"labels":false}}},
"spacing":{"row":16.75},
"resolve":{"axis":{"x":"independent"}},
"spec":{
"width":884,"height":119,
"layer":[
{"mark":{"type":"rect"},
"encoding":{
"x":{"field":"c","type":"ordinal","scale":{"domain":[0,1,2,3,4,5,6,7,8,9,10,11,12,13,14,15,16,17,18,19,20,21,22,23,24,25,26,27,28,29,30,31,32,33,34,35,36,37,38,39,40,41],"paddingInner":0,"paddingOuter":0},
"axis":{"title":null,"domain":false,"ticks":false,"labelAngle":0,"labelPadding":2,"labelFontSize":16,"labelFont":"Liberation Sans","labelColor":"#000000","values":[0,1,2,3,4,5,6,7,8,9,10,11,12,13,14,15,16,17,18,19,22,23,24,25,26,27,28,29,30,31,32,33,34,35,36,37,38,39,40,41],"labelExpr":"substring('NTTCATTACACCTGCAGCTN  NAGTATCAATTCTGGAAGAN', datum.value, datum.value + 1)"}},
"y":{"field":"b","type":"nominal","sort":["T","G","C","A"],"scale":{"paddingInner":0,"paddingOuter":0},"axis":null},
"color":{"field":"v","type":"quantitative","scale":{"domain":[-10,-5,0,5,10],"range":["#4422ff","#a890ff","#ffffff","#ff9c80","#ff1a00"],"interpolate":"rgb"},"legend":null}}},
{"transform":[{"filter":"datum.b == substring('NTTCATTACACCTGCAGCTNxxNAGTATCAATTCTGGAAGAN', datum.c, datum.c + 1)"}],
"mark":{"type":"rect","stroke":"#111111","strokeWidth":2.2},
"encoding":{
"x":{"field":"c","type":"ordinal"},
"y":{"field":"b","type":"nominal","sort":["T","G","C","A"]},
"color":{"field":"v","type":"quantitative","legend":null}}},
{"transform":[{"filter":"datum.c == 0"}],
"mark":{"type":"text","fontSize":16,"font":"Liberation Sans","color":"#000000","align":"center","baseline":"middle","dy":2},
"encoding":{
"x":{"datum":20,"type":"ordinal","bandPosition":1},
"y":{"field":"b","type":"nominal","sort":["T","G","C","A"]},
"text":{"field":"b"}}},
{"transform":[{"filter":"datum.c == 0 && datum.b == 'T'"}],
"mark":{"type":"text","fontSize":23,"font":"Liberation Sans","color":"#000000","align":"left","baseline":"middle","dx":20,"dy":-1},
"encoding":{
"x":{"datum":41,"type":"ordinal","bandPosition":1},
"y":{"datum":"G","type":"nominal","bandPosition":1},
"text":{"field":"name"}}}
]},
"config":{"view":{"stroke":null},"font":"Liberation Sans"}
}
